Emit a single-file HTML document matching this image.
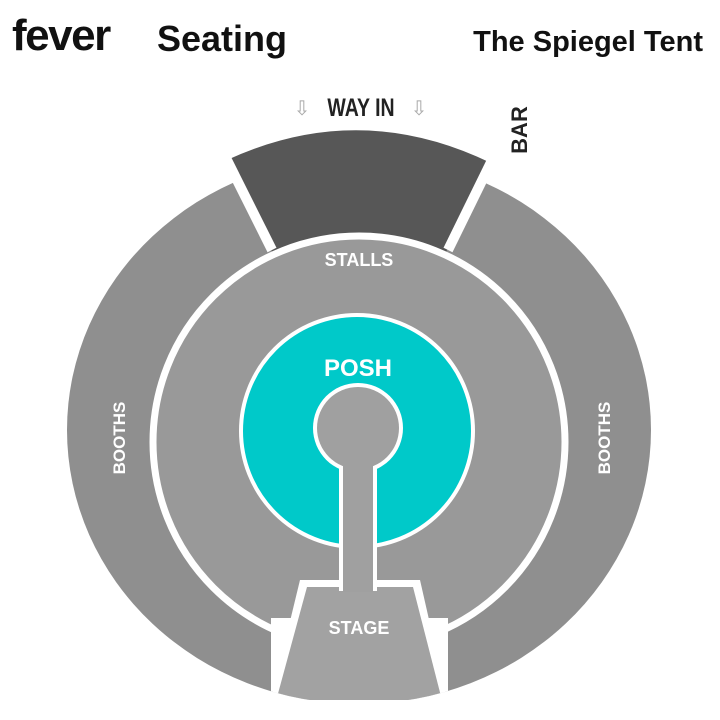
<!DOCTYPE html>
<html><head><meta charset="utf-8"><style>
html,body{margin:0;padding:0;background:#fff;}
svg{display:block;}
</style></head><body>
<svg width="720" height="720" viewBox="0 0 720 720" xmlns="http://www.w3.org/2000/svg" font-family="Liberation Sans, sans-serif">
<rect width="720" height="720" fill="#fff"/>
<text x="12" y="50" font-size="44" font-weight="bold" fill="#111" letter-spacing="-1.5">fever</text>
<text x="157" y="51" font-size="36" font-weight="bold" fill="#111">Seating</text>
<text x="703" y="51" font-size="29" font-weight="bold" fill="#111" text-anchor="end">The Spiegel Tent</text>

<defs><clipPath id="c"><ellipse cx="359" cy="430" rx="292" ry="274"/></clipPath></defs>
<ellipse cx="359" cy="430" rx="292" ry="274" fill="#8f8f8f"/>
<path d="M227,160 Q359,99 491,163 L437,270 L281,270 Z" fill="#575757"/>
<line x1="272" y1="250" x2="222" y2="150" stroke="#fff" stroke-width="10"/>
<line x1="448" y1="250" x2="497" y2="150" stroke="#fff" stroke-width="10"/>

<circle cx="359" cy="442" r="206" fill="#999" stroke="#fff" stroke-width="7"/>

<g clip-path="url(#c)">
<polygon points="300,580 420,580 450,712 268,712" fill="#fff"/>
<rect x="271" y="618" width="177" height="100" fill="#fff"/>
<polygon points="307,587 413,587 445,712 273,712" fill="#a2a2a2"/>
</g>
<rect x="0" y="700" width="720" height="20" fill="#fff"/>

<circle cx="357" cy="431" r="116" fill="#00c9c9" stroke="#fff" stroke-width="4"/>
<circle cx="358" cy="428" r="45" fill="#fff"/>
<rect x="339" y="460" width="38" height="131" fill="#fff"/>
<circle cx="358" cy="428" r="41" fill="#a0a0a0"/>
<rect x="343" y="462" width="30" height="130" fill="#a0a0a0"/>

<text x="361" y="116" font-size="25" font-weight="bold" fill="#222" text-anchor="middle" transform="translate(361 0) scale(0.78 1) translate(-361 0)">WAY IN</text>
<text x="302" y="115" font-size="20" fill="#aaa" text-anchor="middle">⇩</text>
<text x="419" y="115" font-size="20" fill="#aaa" text-anchor="middle">⇩</text>
<text transform="translate(527 130) rotate(-90)" font-size="22" font-weight="bold" fill="#222" text-anchor="middle">BAR</text>
<text x="359" y="266" font-size="18" font-weight="bold" fill="#fff" text-anchor="middle">STALLS</text>
<text x="358" y="376" font-size="24" font-weight="bold" fill="#fff" text-anchor="middle">POSH</text>
<text transform="translate(125 438) rotate(-90)" font-size="17" font-weight="bold" fill="#fff" text-anchor="middle">BOOTHS</text>
<text transform="translate(610 438) rotate(-90)" font-size="17" font-weight="bold" fill="#fff" text-anchor="middle">BOOTHS</text>
<text x="359" y="634" font-size="18" font-weight="bold" fill="#fff" text-anchor="middle">STAGE</text>
</svg>
</body></html>
